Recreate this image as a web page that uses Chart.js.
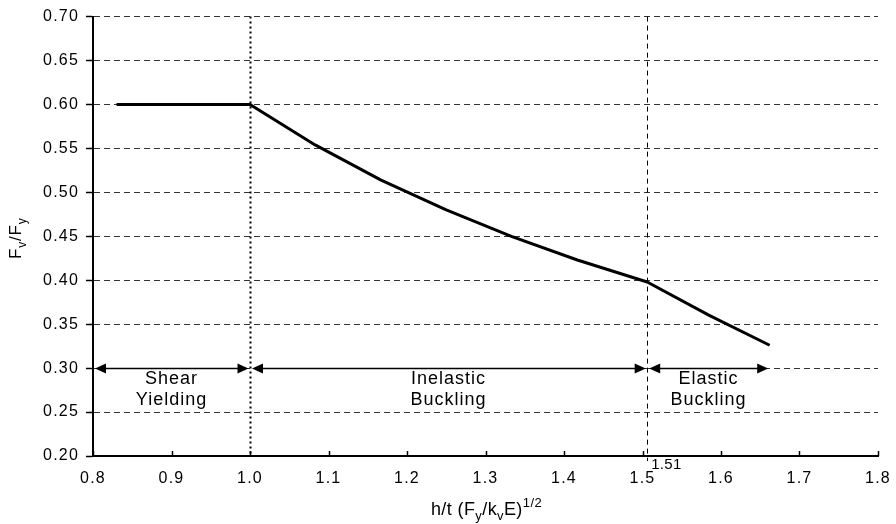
<!DOCTYPE html>
<html><head><meta charset="utf-8">
<script src="https://cdn.jsdelivr.net/npm/chart.js@4/dist/chart.umd.min.js"></script>
<style>html,body{margin:0;padding:0;background:#fff}canvas{display:block}</style>
</head><body>
<canvas id="c" width="896" height="524"></canvas>
<script>
// ---- data ----
const curveX = [0.83, 1.00, 1.083, 1.167, 1.25, 1.333, 1.417, 1.506, 1.585, 1.662];
const curveY = [0.600, 0.600, 0.554, 0.514, 0.480, 0.450, 0.423, 0.398, 0.360, 0.326];
const dividerX = [1.0, 1.506];
const dividerStyle = ['dotted', 'dashed'];
const dividerLabel = ['', '1.51'];
const zoneStart = [0.8, 1.0, 1.506];
const zoneEnd = [1.0, 1.506, 1.662];
const zoneLine1 = ['Shear', 'Inelastic', 'Elastic'];
const zoneLine2 = ['Yielding', 'Buckling', 'Buckling'];
const zoneLevel = 0.30;
const xTicks = [0.8, 0.9, 1.0, 1.1, 1.2, 1.3, 1.4, 1.5, 1.6, 1.7, 1.8];
const xTickLabels = ['0.8', '0.9', '1.0', '1.1', '1.2', '1.3', '1.4', '1.5', '1.6', '1.7', '1.8'];
const yTicks = [0.20, 0.25, 0.30, 0.35, 0.40, 0.45, 0.50, 0.55, 0.60, 0.65, 0.70];
const yTickLabels = ['0.20', '0.25', '0.30', '0.35', '0.40', '0.45', '0.50', '0.55', '0.60', '0.65', '0.70'];
// axis titles as text runs: [text, kind] kind: n normal, b subscript, p superscript
const xTitleRuns = [['h/t (F', 'n'], ['y', 'b'], ['/k', 'n'], ['v', 'b'], ['E)', 'n'], ['1/2', 'p']];
const yTitleRuns = [['F', 'n'], ['v', 'b'], ['/F', 'n'], ['y', 'b']];

const FONT = "'Liberation Sans', Arial, Helvetica, sans-serif";

function drawRuns(ctx, runs, cx, baseY, size) {
  const small = Math.round(size * 0.72);
  let total = 0;
  const widths = runs.map(([t, k]) => {
    ctx.font = (k === 'n' ? size : small) + 'px ' + FONT;
    const w = ctx.measureText(t).width; total += w; return w;
  });
  let x = cx - total / 2;
  ctx.textAlign = 'left'; ctx.textBaseline = 'alphabetic';
  runs.forEach(([t, k], i) => {
    ctx.font = (k === 'n' ? size : small) + 'px ' + FONT;
    const dy = k === 'b' ? size * 0.28 : (k === 'p' ? -size * 0.42 : 0);
    ctx.fillText(t, x, baseY + dy);
    x += widths[i];
  });
}

function arrowHead(ctx, tipX, y, dir) {
  const L = 11, H = 5;
  ctx.beginPath();
  ctx.moveTo(tipX, y);
  ctx.lineTo(tipX - dir * L, y - H);
  ctx.lineTo(tipX - dir * L, y + H);
  ctx.closePath();
  ctx.fill();
}

const extras = {
  id: 'extras',
  beforeDraw(chart) {
    chart.ctx.letterSpacing = '1.2px';
  },
  beforeDatasetsDraw(chart) {
    const { ctx, chartArea: a, scales: { x } } = chart;
    ctx.save();
    ctx.strokeStyle = '#000';
    dividerX.forEach((v, i) => {
      const px = Math.round(x.getPixelForValue(v)) + 0.5;
      ctx.beginPath();
      if (dividerStyle[i] === 'dotted') { ctx.lineWidth = 2; ctx.setLineDash([2, 3]); }
      else { ctx.lineWidth = 1; ctx.setLineDash([5, 4]); }
      ctx.moveTo(px, a.top);
      ctx.lineTo(px, a.bottom + (dividerStyle[i] === 'dashed' ? 5 : 0));
      ctx.stroke();
    });
    ctx.restore();
  },
  afterDatasetsDraw(chart) {
    const { ctx, chartArea: a, scales: { x, y } } = chart;
    ctx.save();
    ctx.fillStyle = '#000'; ctx.strokeStyle = '#000';
    const ay = Math.round(y.getPixelForValue(zoneLevel)) + 0.5;
    zoneStart.forEach((s, i) => {
      const x1 = x.getPixelForValue(s) + 2;
      const x2 = x.getPixelForValue(zoneEnd[i]) - 1.5;
      ctx.lineWidth = 1.5; ctx.setLineDash([]);
      ctx.beginPath(); ctx.moveTo(x1 + 5, ay); ctx.lineTo(x2 - 5, ay); ctx.stroke();
      arrowHead(ctx, x1, ay, -1);
      arrowHead(ctx, x2, ay, 1);
      const cx = (x.getPixelForValue(s) + x.getPixelForValue(zoneEnd[i])) / 2;
      ctx.font = '18px ' + FONT; ctx.textAlign = 'center'; ctx.textBaseline = 'alphabetic';
      ctx.letterSpacing = '1px';
      ctx.fillText(zoneLine1[i], cx, ay + 15);
      ctx.fillText(zoneLine2[i], cx, ay + 36);
    });
    dividerX.forEach((v, i) => {
      if (!dividerLabel[i]) return;
      ctx.font = '15px ' + FONT; ctx.textAlign = 'left'; ctx.textBaseline = 'top';
      ctx.letterSpacing = '0.3px';
      ctx.fillText(dividerLabel[i], x.getPixelForValue(v) + 4, a.bottom + 1);
    });
    ctx.restore();
  },
  afterDraw(chart) {
    const { ctx, chartArea: a, scales: { x } } = chart;
    ctx.save();
    ctx.strokeStyle = '#000'; ctx.lineWidth = 1.5; ctx.setLineDash([]);
    xTicks.forEach(v => {
      const px = Math.round(x.getPixelForValue(v)) + 0.5;
      ctx.beginPath(); ctx.moveTo(px, a.bottom); ctx.lineTo(px, a.bottom - 5); ctx.stroke();
    });
    ctx.fillStyle = '#000';
    ctx.letterSpacing = '0.4px';
    drawRuns(ctx, xTitleRuns, (a.left + a.right) / 2 + 1, 515, 18);
    ctx.letterSpacing = '0.8px';
    ctx.translate(21, (a.top + a.bottom) / 2 + 2);
    ctx.rotate(-Math.PI / 2);
    drawRuns(ctx, yTitleRuns, 0, 0, 17);
    ctx.restore();
  }
};

new Chart(document.getElementById('c'), {
  type: 'scatter',
  data: {
    datasets: [{
      data: curveX.map((v, i) => ({ x: v, y: curveY[i] })),
      showLine: true,
      borderColor: '#000',
      borderWidth: 3,
      pointRadius: 0,
      tension: 0,
      borderJoinStyle: 'round'
    }]
  },
  options: {
    responsive: false,
    animation: false,
    devicePixelRatio: 1,
    layout: { padding: { left: 0, top: 16, right: 18, bottom: 0 } },
    plugins: { legend: { display: false }, tooltip: { enabled: false } },
    scales: {
      x: {
        type: 'linear', min: 0.8, max: 1.8,
        afterBuildTicks(s) { s.ticks = xTicks.map(v => ({ value: v })); },
        afterFit(s) { s.height = 68; s.paddingLeft = 0; s.paddingRight = 0; },
        ticks: {
          callback: (v, i) => xTickLabels[i],
          color: '#000', font: { family: FONT, size: 16 }, padding: 13, maxRotation: 0, autoSkip: false
        },
        grid: { display: true, drawOnChartArea: false, drawTicks: false },
        border: { display: true, color: '#000', width: 2 }
      },
      y: {
        type: 'linear', min: 0.2, max: 0.7,
        afterBuildTicks(s) { s.ticks = yTicks.map(v => ({ value: v })); },
        afterFit(s) { s.width = 93; },
        ticks: {
          callback: (v, i) => yTickLabels[i],
          color: '#000', font: { family: FONT, size: 16 }, padding: 7, autoSkip: false
        },
        grid: {
          color: '#333', lineWidth: 1,
          drawTicks: true, tickLength: 7, tickColor: '#000', tickWidth: 1.5, tickBorderDash: []
        },
        border: { display: true, color: '#000', width: 2, dash: [6, 4] }
      }
    }
  },
  plugins: [extras]
});
</script>
</body></html>
